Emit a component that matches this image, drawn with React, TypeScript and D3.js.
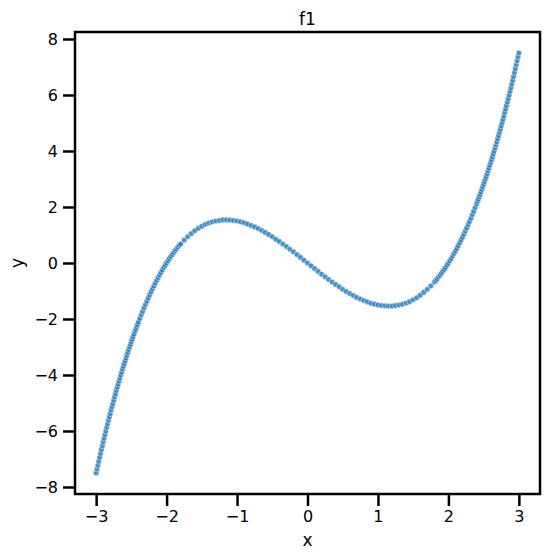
import React, { useEffect, useRef } from "react";
import * as d3 from "d3";

// points (x, y)
const X_VALUES = [
  -3, -2.9875, -2.975, -2.9625, -2.95, -2.9375, -2.925, -2.9125, -2.9, -2.8875, -2.875, -2.8625,
  -2.85, -2.8375, -2.825, -2.8125, -2.8, -2.7875, -2.775, -2.7625, -2.75, -2.7375, -2.725, -2.7125,
  -2.7, -2.6875, -2.675, -2.6625, -2.65, -2.6375, -2.625, -2.6125, -2.6, -2.5875, -2.575, -2.5625,
  -2.55, -2.5375, -2.525, -2.5125, -2.5, -2.4875, -2.475, -2.4625, -2.45, -2.4375, -2.425, -2.4125,
  -2.4, -2.38, -2.36, -2.34, -2.32, -2.3, -2.28, -2.26, -2.24, -2.22, -2.2, -2.18, -2.16, -2.14,
  -2.12, -2.1, -2.08, -2.06, -2.04, -2.02, -2, -1.98, -1.96, -1.94, -1.92, -1.9, -1.88, -1.86,
  -1.84, -1.82,
  -1.8, -1.75, -1.7, -1.65, -1.6, -1.55, -1.5, -1.45, -1.4, -1.35, -1.3, -1.25, -1.2, -1.15, -1.1,
  -1.05, -1, -0.95, -0.9, -0.85, -0.8, -0.75, -0.7, -0.65, -0.6, -0.55, -0.5, -0.45, -0.4, -0.35,
  -0.3, -0.25, -0.2, -0.15, -0.1, -0.05, 0, 0.05, 0.1, 0.15, 0.2, 0.25, 0.3, 0.35, 0.4, 0.45, 0.5,
  0.55, 0.6, 0.65, 0.7, 0.75, 0.8, 0.85, 0.9, 0.95, 1, 1.05, 1.1, 1.15, 1.2, 1.25, 1.3, 1.35, 1.4,
  1.45, 1.5, 1.55, 1.6, 1.65, 1.7, 1.75, 1.8,
  1.82, 1.84, 1.86, 1.88, 1.9, 1.92, 1.94, 1.96, 1.98, 2, 2.02, 2.04, 2.06, 2.08, 2.1, 2.12, 2.14,
  2.16, 2.18, 2.2, 2.22, 2.24, 2.26, 2.28, 2.3, 2.32, 2.34, 2.36, 2.38, 2.4,
  2.4125, 2.425, 2.4375, 2.45, 2.4625, 2.475, 2.4875, 2.5, 2.5125, 2.525, 2.5375, 2.55, 2.5625,
  2.575, 2.5875, 2.6, 2.6125, 2.625, 2.6375, 2.65, 2.6625, 2.675, 2.6875, 2.7, 2.7125, 2.725,
  2.7375, 2.75, 2.7625, 2.775, 2.7875, 2.8, 2.8125, 2.825, 2.8375, 2.85, 2.8625, 2.875, 2.8875,
  2.9, 2.9125, 2.925, 2.9375, 2.95, 2.9625, 2.975, 2.9875, 3,
];

const Y_VALUES = [
  -7.5, -7.36, -7.22, -7.08, -6.94, -6.8, -6.66, -6.53, -6.39, -6.26, -6.13, -6.0,
  -5.87, -5.75, -5.62, -5.5, -5.38, -5.25, -5.13, -5.02, -4.9, -4.78, -4.67, -4.55,
  -4.44, -4.33, -4.22, -4.11, -4.0, -3.9, -3.79, -3.69, -3.59, -3.49, -3.39, -3.29,
  -3.19, -3.09, -3.0, -2.91, -2.81, -2.72, -2.63, -2.54, -2.45, -2.37, -2.28, -2.2,
  -2.11, -1.98, -1.85, -1.73, -1.6, -1.48, -1.37, -1.25, -1.14, -1.03, -0.92, -0.82, -0.72, -0.62,
  -0.52, -0.43, -0.34, -0.25, -0.16, -0.08, 0, 0.08, 0.16, 0.23, 0.3, 0.37, 0.44, 0.5,
  0.57, 0.63,
  0.68, 0.82, 0.94, 1.05, 1.15, 1.24, 1.31, 1.38, 1.43, 1.47, 1.5, 1.52, 1.54, 1.54, 1.53,
  1.52, 1.5, 1.47, 1.44, 1.39, 1.34, 1.29, 1.23, 1.16, 1.09, 1.02, 0.94, 0.85, 0.77, 0.68,
  0.59, 0.49, 0.4, 0.3, 0.2, 0.1, 0, -0.1, -0.2, -0.3, -0.4, -0.49, -0.59, -0.68, -0.77, -0.85, -0.94,
  -1.02, -1.09, -1.16, -1.23, -1.29, -1.34, -1.39, -1.44, -1.47, -1.5, -1.52, -1.53, -1.54, -1.54,
  -1.52, -1.5, -1.47, -1.43, -1.38, -1.31, -1.24, -1.15, -1.05, -0.94, -0.82, -0.68,
  -0.63, -0.57, -0.5, -0.44, -0.37, -0.3, -0.23, -0.16, -0.08, 0, 0.08, 0.16, 0.25, 0.34, 0.43,
  0.52, 0.62, 0.72, 0.82, 0.92, 1.03, 1.14, 1.25, 1.37, 1.48, 1.6, 1.73, 1.85, 1.98, 2.11,
  2.2, 2.28, 2.37, 2.45, 2.54, 2.63, 2.72, 2.81, 2.91, 3.0, 3.09, 3.19, 3.29,
  3.39, 3.49, 3.59, 3.69, 3.79, 3.9, 4.0, 4.11, 4.22, 4.33, 4.44, 4.55,
  4.67, 4.78, 4.9, 5.02, 5.13, 5.25, 5.38, 5.5, 5.62, 5.75, 5.87, 6.0, 6.13,
  6.26, 6.39, 6.53, 6.66, 6.8, 6.94, 7.08, 7.22, 7.36, 7.5,
];

const X_TICKS = [-3, -2, -1, 0, 1, 2, 3];
const Y_TICKS = [-8, -6, -4, -2, 0, 2, 4, 6, 8];

const App = () => {
  const ref = useRef<HTMLDivElement>(null);

  useEffect(() => {
    const W = 549;
    const H = 560;
    const margin = { top: 32, right: 9, bottom: 66, left: 75 };
    const width = W - margin.left - margin.right;
    const height = H - margin.top - margin.bottom;
    const font = "'DejaVu Sans', sans-serif";

    const svg = d3
      .select(ref.current)
      .html("")
      .append("svg")
      .attr("width", W)
      .attr("height", H)
      .style("position", "absolute")
      .style("left", "0px")
      .style("top", "0px")
      .style("background", "white");

    const x = d3.scaleLinear().domain([-3.3, 3.3]).range([0, width]);
    const y = d3.scaleLinear().domain([-8.25, 8.25]).range([height, 0]);

    const chart = svg
      .append("g")
      .attr("transform", `translate(${margin.left},${margin.top})`);

    const points = X_VALUES.map((v, i) => ({ x: v, y: Y_VALUES[i] }));

    chart
      .append("g")
      .selectAll("circle")
      .data(points)
      .join("circle")
      .attr("cx", (d) => x(d.x))
      .attr("cy", (d) => y(d.y))
      .attr("r", 2.8)
      .attr("fill", "#1f77b4")
      .attr("fill-opacity", 0.8)
      .attr("stroke", "white")
      .attr("stroke-width", 0.5);

    const xAxis = chart
      .append("g")
      .attr("transform", `translate(0,${height})`)
      .call(d3.axisBottom(x).tickValues(X_TICKS).tickSize(12).tickPadding(5).tickFormat(d3.format("")));
    const yAxis = chart
      .append("g")
      .call(d3.axisLeft(y).tickValues(Y_TICKS).tickSize(12).tickPadding(5).tickFormat(d3.format("")));

    [xAxis, yAxis].forEach((ax) => {
      ax.select(".domain").remove();
      ax.selectAll("line").attr("stroke", "black").attr("stroke-width", 2.5);
      ax.selectAll("text").attr("font-family", font).attr("font-size", 16).attr("fill", "black");
    });

    chart
      .append("rect")
      .attr("width", width)
      .attr("height", height)
      .attr("fill", "none")
      .attr("stroke", "black")
      .attr("stroke-width", 2.5);

    svg
      .append("text")
      .attr("x", margin.left + width / 2)
      .attr("y", 25)
      .attr("text-anchor", "middle")
      .attr("font-family", font)
      .attr("font-size", 17)
      .text("f1");

    svg
      .append("text")
      .attr("x", margin.left + width / 2)
      .attr("y", 546)
      .attr("text-anchor", "middle")
      .attr("font-family", font)
      .attr("font-size", 17)
      .text("x");

    svg
      .append("text")
      .attr("transform", `translate(23,${margin.top + height / 2}) rotate(-90)`)
      .attr("text-anchor", "middle")
      .attr("font-family", font)
      .attr("font-size", 17)
      .text("y");
  }, []);

  return <div ref={ref} />;
};

export default App;
